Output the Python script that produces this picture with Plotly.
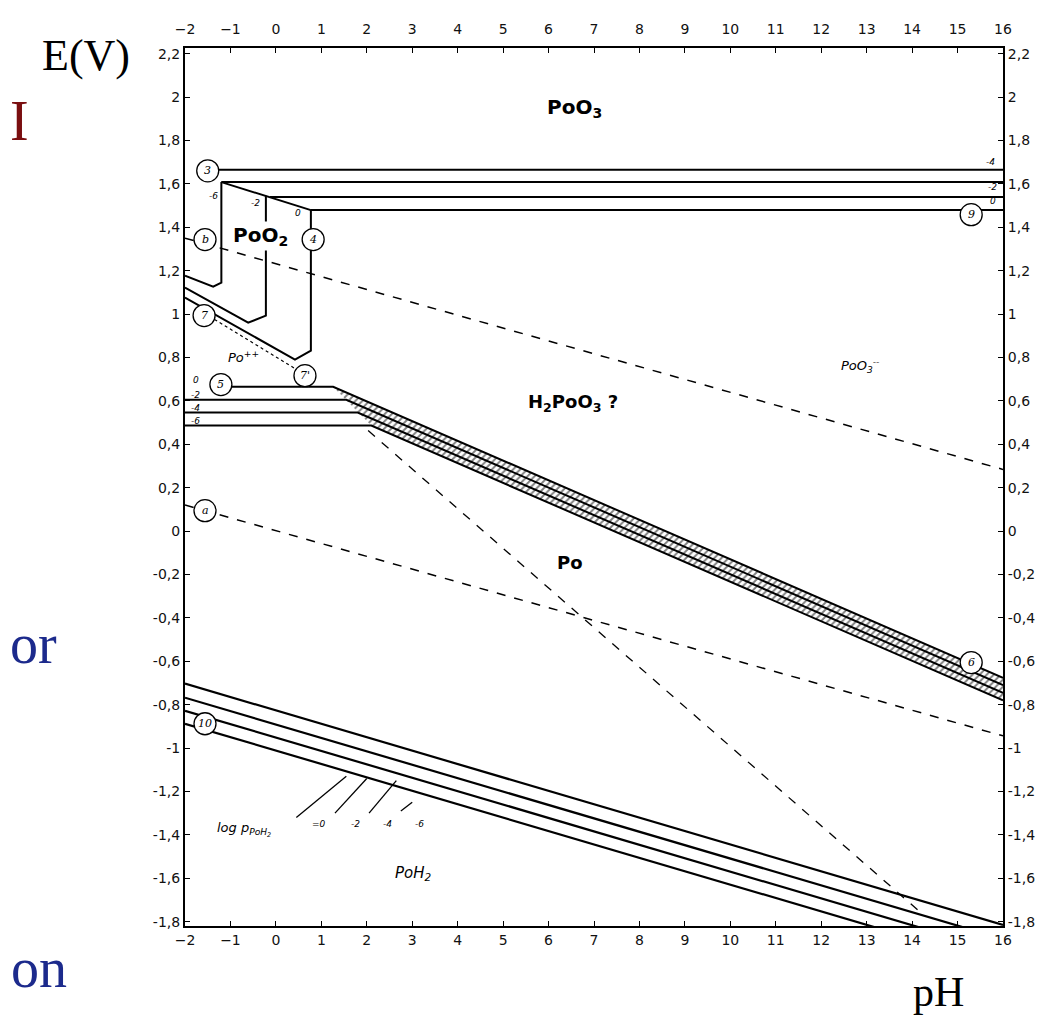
import plotly.graph_objects as go

# ---------------- data ----------------
ph_ticks = list(range(-2, 17))
e_ticks = [-1.8, -1.6, -1.4, -1.2, -1.0, -0.8, -0.6, -0.4, -0.2, 0.0,
           0.2, 0.4, 0.6, 0.8, 1.0, 1.2, 1.4, 1.6, 1.8, 2.0, 2.2]
e_ticktext = ["-1,8", "-1,6", "-1,4", "-1,2", "-1", "-0,8", "-0,6", "-0,4", "-0,2", "0",
              "0,2", "0,4", "0,6", "0,8", "1", "1,2", "1,4", "1,6", "1,8", "2", "2,2"]

# PoO3 / PoO2 horizontal lines (line 3 / 9 family)
top_E = [1.665, 1.608, 1.539, 1.479]
top_start_pH = [-1.5, -1.2, -0.13, 0.77]
top_end_pH = [16, 16, 16, 16]

# sloping top of the PoO2 field
slant_pH = [-1.2, 0.77]
slant_E = [1.608, 1.479]

# PoO2 / Po++ verticals with their lower diagonal (line 7 family)
vert_pH = [-1.2, -0.22, 0.77]
vert_top_E = [1.608, 1.545, 1.479]
vert_bot_E = [1.145, 0.993, 0.831]
diag_end_pH = [-1.38, -0.61, 0.42]
diag_end_E = [1.126, 0.960, 0.790]
diag_start_E = [1.177, 1.122, 1.076]

# dotted line 7 -> 7'
dot7_pH = [-1.35, 0.45]
dot7_E = [0.975, 0.745]

# Po++ / Po and H2PoO3 / Po band (lines 5 and 6)
band_start_pH = [-1.2, -2, -2, -2]
band_h_E = [0.665, 0.605, 0.546, 0.486]
band_bend_pH = [1.26, 1.55, 1.80, 2.10]
band_end_E = [-0.676, -0.710, -0.745, -0.780]

# PoH2 lines (line 10)
poh2_pH = [-2, 16]
poh2_E_left = [-0.703, -0.768, -0.828, -0.888]
poh2_E_right = [-1.815, -1.880, -1.940, -2.000]

# water lines and steep dashed line
oxy_pH = [-2, 16]
oxy_E = [1.35, 0.284]
hyd_pH = [-2, 16]
hyd_E = [0.12, -0.944]
steep_pH = [2.03, 14.2]
steep_E = [0.463, -1.76]

# circled reference numbers
circ_text = ["3", "b", "4", "7", "7'", "5", "a", "6", "9", "10"]
circ_pH = [-1.5, -1.56, 0.82, -1.58, 0.64, -1.21, -1.56, 15.3, 15.3, -1.56]
circ_E = [1.66, 1.343, 1.343, 0.993, 0.716, 0.675, 0.094, -0.606, 1.458, -0.888]

# field labels
field_text = ["<b>PoO<sub>3</sub></b>", "<b>PoO<sub>2</sub></b>", "<b>H<sub>2</sub>PoO<sub>3</sub> ?</b>",
              "<b>Po</b>", "<i>PoO<sub>3</sub><sup>--</sup></i>", "<i>Po<sup>++</sup></i>",
              "<i>PoH<sub>2</sub></i>", "<i>log p<sub>PoH<sub>2</sub></sub></i>"]
field_pH = [6.58, -0.33, 6.54, 6.47, 12.85, -0.72, 3.02, -0.7]
field_E = [1.951, 1.361, 0.592, -0.146, 0.762, 0.80, -1.579, -1.376]
field_size = [20, 20, 18, 18, 13, 13, 15, 13]

# small concentration labels
small_text = ["-6", "-2", "0", "-4", "-2", "0", "0", "-2", "-4", "-6", "=0", "-2", "-4", "-6"]
small_pH = [-1.38, -0.45, 0.48, 15.72, 15.76, 15.78, -1.76, -1.76, -1.76, -1.76, 0.95, 1.75, 2.45, 3.15]
small_E = [1.546, 1.513, 1.467, 1.70, 1.585, 1.52, 0.698, 0.628, 0.569, 0.509, -1.35, -1.35, -1.35, -1.35]

# leader lines for log p labels
lead_pH0 = [0.45, 1.3, 2.05, 2.75]
lead_E0 = [-1.32, -1.30, -1.30, -1.29]
lead_pH1 = [1.55, 2.0, 2.65, 3.0]
lead_E1 = [-1.13, -1.14, -1.15, -1.25]

fig = go.Figure()
LW = 2.0
K = "black"

def line(xs, ys, width=LW, dash="solid"):
    fig.add_trace(go.Scatter(x=xs, y=ys, mode="lines", line=dict(color=K, width=width, dash=dash),
                             hoverinfo="skip", showlegend=False))

# hatched band (between first and last line of family 6)
hx = [band_bend_pH[0], 16, 16, band_bend_pH[3]]
hy = [band_h_E[0], band_end_E[0], band_end_E[3], band_h_E[3]]
fig.add_trace(go.Scatter(x=hx, y=hy, mode="lines", fill="toself", line=dict(width=0, color="rgba(0,0,0,0)"),
                         fillcolor="rgba(0,0,0,0)",
                         fillpattern=dict(shape="/", fgcolor="black", bgcolor="white", size=5, solidity=0.4),
                         hoverinfo="skip", showlegend=False))

for i in range(4):
    line([top_start_pH[i], top_end_pH[i]], [top_E[i], top_E[i]])
line(slant_pH, slant_E)
for i in range(3):
    line([-2, diag_end_pH[i], vert_pH[i], vert_pH[i]],
         [diag_start_E[i], diag_end_E[i], vert_bot_E[i], vert_top_E[i]])
line(dot7_pH, dot7_E, width=1.2, dash="dot")
for i in range(4):
    line([band_start_pH[i], band_bend_pH[i], 16], [band_h_E[i], band_h_E[i], band_end_E[i]], width=2.0)
for i in range(4):
    line(poh2_pH, [poh2_E_left[i], poh2_E_right[i]], width=2.2)
line(oxy_pH, oxy_E, width=1.5, dash="dash")
line(hyd_pH, hyd_E, width=1.5, dash="dash")
line(steep_pH, steep_E, width=1.3, dash="dash")

# dummy trace for mirrored axes
fig.add_trace(go.Scatter(x=[0], y=[0], xaxis="x2", yaxis="y2", mode="markers",
                         marker=dict(opacity=0), hoverinfo="skip", showlegend=False))

shapes = []
annotations = []
for t, x, y in zip(circ_text, circ_pH, circ_E):
    r = 11
    shapes.append(dict(type="circle", xref="x", yref="y", xsizemode="pixel", ysizemode="pixel",
                       xanchor=x, yanchor=y, x0=-r, x1=r, y0=-r, y1=r,
                       fillcolor="white", line=dict(color=K, width=1.3), layer="above"))
    annotations.append(dict(x=x, y=y, xref="x", yref="y", text="<i>%s</i>" % t, showarrow=False,
                            font=dict(family="DejaVu Serif", size=11, color=K)))
for a, b, c, d in zip(lead_pH0, lead_E0, lead_pH1, lead_E1):
    shapes.append(dict(type="line", xref="x", yref="y", x0=a, y0=b, x1=c, y1=d,
                       line=dict(color=K, width=1.3), layer="above"))
for t, x, y, s in zip(field_text, field_pH, field_E, field_size):
    annotations.append(dict(x=x, y=y, xref="x", yref="y", text=t, showarrow=False,
                            bgcolor="white" if "PoO<sub>2" in t else None,
                            font=dict(family="DejaVu Sans", size=s, color=K)))
for t, x, y in zip(small_text, small_pH, small_E):
    annotations.append(dict(x=x, y=y, xref="x", yref="y", text="<i>%s</i>" % t, showarrow=False,
                            font=dict(family="DejaVu Sans", size=9, color=K)))

# texts outside the diagram
outside = [("E(V)", 78, 47, 44, "black", "center"), ("pH", 930, 984, 42, "black", "center"),
           ("I", 0, 113, 56, "#7a0e10", "left"), ("or", 0, 636, 56, "#1c2a8c", "left"),
           ("on", 1, 960, 56, "#1c2a8c", "left")]
for t, px, py, s, col, xa in outside:
    annotations.append(dict(x=(px - 177) / 818, y=1 - (py - 40) / 878, xref="paper", yref="paper",
                            text=t, showarrow=False, xanchor=xa, yanchor="middle",
                            font=dict(family="Liberation Serif", size=s, color=col)))

axis_common = dict(showgrid=False, zeroline=False, showline=True, linecolor=K, linewidth=2,
                   ticks="inside", ticklen=5, tickwidth=1.3, tickcolor=K,
                   tickfont=dict(family="DejaVu Sans", size=14, color="#111"))
fig.update_layout(
    width=1048, height=1019,
    margin=dict(l=177, r=53, t=40, b=101),
    paper_bgcolor="white", plot_bgcolor="white",
    xaxis=dict(range=[-2, 16], tickvals=ph_ticks, **axis_common),
    yaxis=dict(range=[-1.82, 2.226], tickvals=e_ticks, ticktext=e_ticktext, **axis_common),
    xaxis2=dict(range=[-2, 16], overlaying="x", side="top", matches="x", tickvals=ph_ticks,
                ticklabelstandoff=6, **axis_common),
    yaxis2=dict(range=[-1.82, 2.226], overlaying="y", side="right", matches="y",
                tickvals=e_ticks, ticktext=e_ticktext, **axis_common),
    shapes=shapes, annotations=annotations,
)
fig.write_html("out.html")
